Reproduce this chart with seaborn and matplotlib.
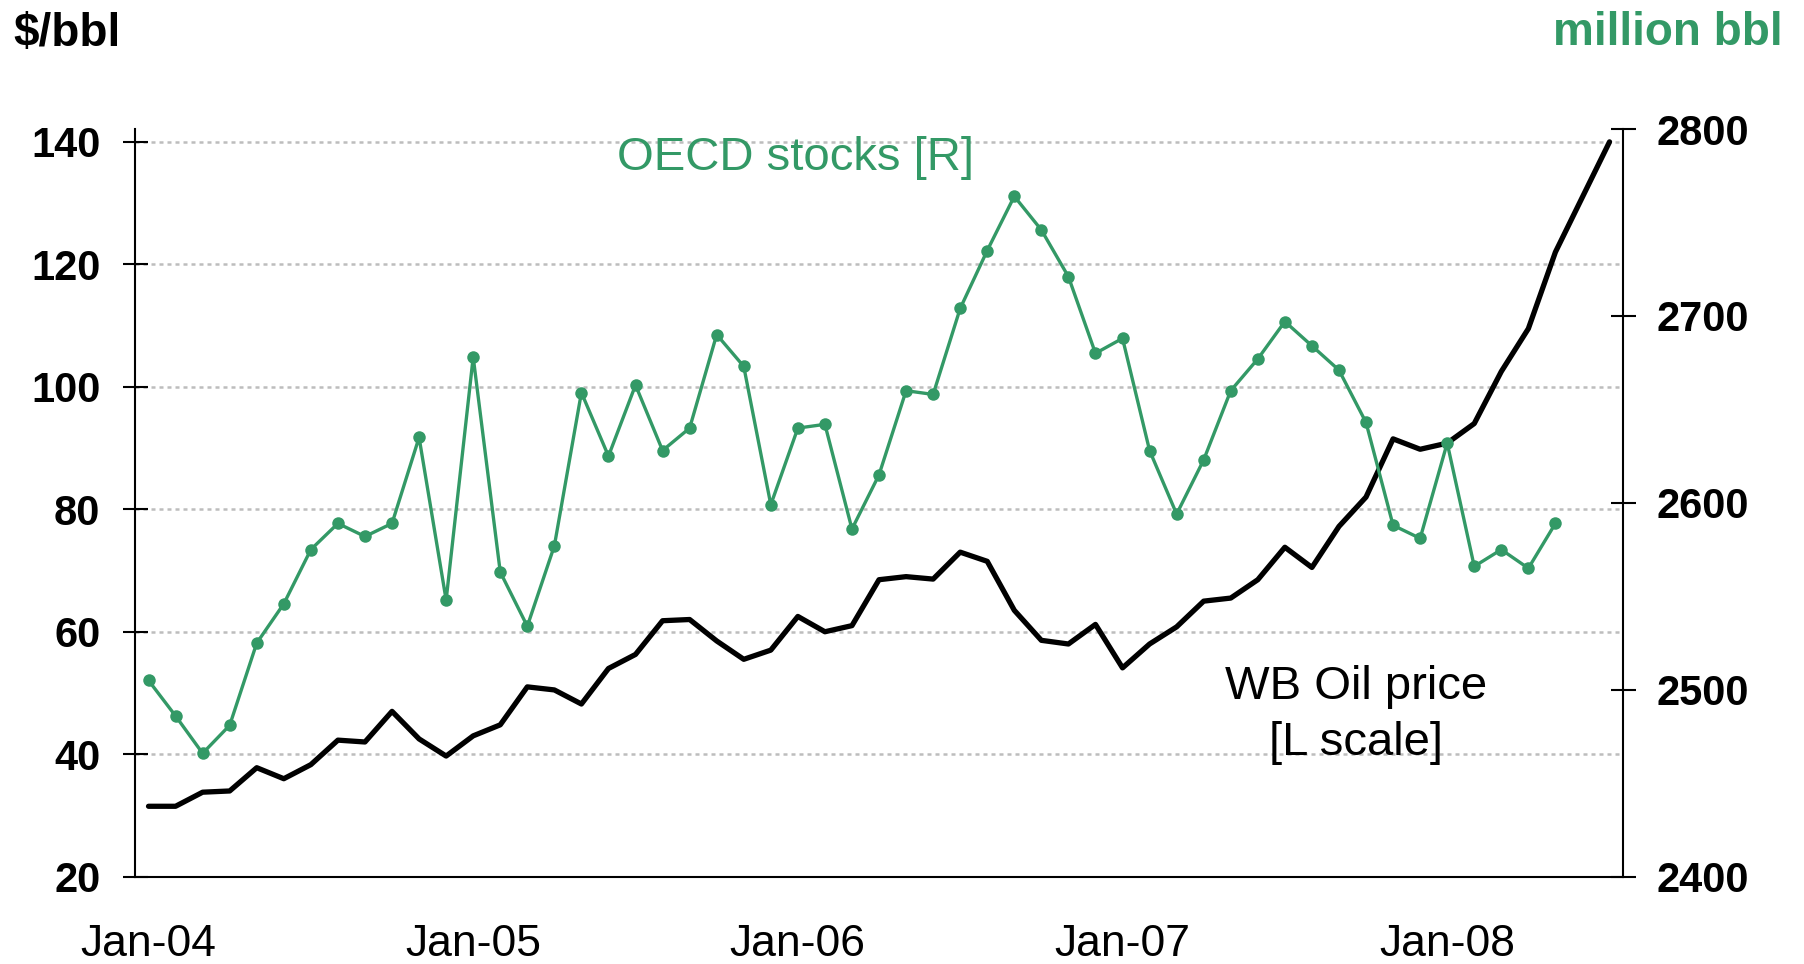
import numpy as np
import pandas as pd
import matplotlib
matplotlib.use('Agg')
import matplotlib.pyplot as plt
import seaborn as sns

# monthly series, Jan-04 onwards
month_labels = ['Jan-04', 'Jan-05', 'Jan-06', 'Jan-07', 'Jan-08']
label_months = [0, 12, 24, 36, 48]

# WB oil price, $/bbl (left scale), Jan-04 .. Jul-08
oil_price = [31.5, 31.5, 33.8, 34.0, 37.8, 36.0, 38.3, 42.3, 42.0, 47.0, 42.5, 39.7,
             43.0, 44.8, 51.0, 50.5, 48.2, 54.0, 56.3, 61.8, 62.0, 58.5, 55.5, 57.0,
             62.5, 60.0, 61.0, 68.5, 69.0, 68.6, 73.0, 71.5, 63.5, 58.6, 58.0, 61.2,
             54.1, 58.0, 60.8, 65.0, 65.5, 68.5, 73.8, 70.5, 77.2, 82.0, 91.5, 89.8,
             90.8, 94.0, 102.5, 109.5, 122.0, 131.0, 140.0]

# OECD commercial stocks, million bbl (right scale), Jan-04 .. May-08
oecd_stocks = [2505, 2486, 2466, 2481, 2525, 2546, 2575, 2589, 2582, 2589, 2635, 2548,
               2678, 2563, 2534, 2577, 2659, 2625, 2663, 2628, 2640, 2690, 2673, 2599,
               2640, 2642, 2586, 2615, 2660, 2658, 2704, 2735, 2764, 2746, 2721, 2680,
               2688, 2628, 2594, 2623, 2660, 2677, 2697, 2684, 2671, 2643, 2588, 2581,
               2632, 2566, 2575, 2565, 2589]

green = '#339966'

sns.set_style('white')
plt.rcParams['font.family'] = ['Liberation Sans', 'DejaVu Sans']
plt.rcParams['text.color'] = 'black'
plt.rcParams['xtick.color'] = 'black'
plt.rcParams['ytick.color'] = 'black'
plt.rcParams['xtick.labelcolor'] = 'black'
plt.rcParams['ytick.labelcolor'] = 'black'
plt.rcParams['lines.solid_joinstyle'] = 'round'
plt.rcParams['lines.solid_capstyle'] = 'round'

price_df = pd.DataFrame({'month': np.arange(len(oil_price)) + 0.5, 'price': oil_price})
stock_df = pd.DataFrame({'month': np.arange(len(oecd_stocks)) + 0.5, 'stocks': oecd_stocks})

fig = plt.figure(figsize=(18.04, 9.64), dpi=100)
ax = fig.add_axes([0.07483, 0.09056, 0.82487, 0.77562])
ax2 = ax.twinx()

sns.lineplot(data=price_df, x='month', y='price', ax=ax, color='black', linewidth=3.8)
sns.lineplot(data=stock_df, x='month', y='stocks', ax=ax2, color=green, linewidth=2.4,
             marker='o', markersize=9, markeredgewidth=0)

ax.set_xlim(0, 55)
ax.set_ylim(20, 142.1)
ax2.set_ylim(2400, 2800)

ax.set_yticks([20, 40, 60, 80, 100, 120, 140])
ax2.set_yticks([2400, 2500, 2600, 2700, 2800])
ax.set_xticks(np.arange(0, 55, 6))
ax.set_xticklabels([])
ax.set_xticks(np.array(label_months) + 0.5, minor=True)
ax.set_xticklabels(month_labels, minor=True)

ax.set_xlabel('')
ax.set_ylabel('')
ax2.set_ylabel('')

ax.yaxis.grid(True, color='#bdbdbd', linestyle=(0, (1.6, 1.6)), linewidth=1.8)
ax.xaxis.grid(False)
ax2.grid(False)
ax.set_axisbelow(True)

for a in (ax, ax2):
    for s in a.spines.values():
        s.set_color('black')
        s.set_linewidth(1.5)
    a.spines['top'].set_visible(False)
ax.spines['right'].set_visible(False)
ax2.spines['left'].set_visible(False)
ax2.spines['bottom'].set_visible(False)

ax.tick_params(axis='y', which='major', direction='inout', length=18, width=1.5,
               pad=16, labelsize=30, colors='black')
ax2.tick_params(axis='y', which='major', direction='inout', length=18, width=1.5,
                pad=15, labelsize=30, colors='black')
ax.tick_params(axis='x', which='major', direction='inout', length=18, width=1.5, colors='black')
ax.tick_params(axis='x', which='minor', length=0, pad=34, labelsize=32, colors='black')
for lab in ax.get_yticklabels() + ax2.get_yticklabels():
    lab.set_fontweight('bold')

fig.text(0.0072, 0.9523, '$/bbl', fontsize=33, fontweight='bold', color='black',
         ha='left', va='baseline')
fig.text(0.9884, 0.9533, 'million bbl', fontsize=33, fontweight='bold', color=green,
         ha='right', va='baseline')
fig.text(0.4412, 0.8237, 'OECD stocks [R]', fontsize=34, color=green, ha='center', va='baseline')
fig.text(0.7517, 0.2749, 'WB Oil price', fontsize=34, color='black', ha='center', va='baseline')
fig.text(0.7517, 0.2168, '[L scale]', fontsize=34, color='black', ha='center', va='baseline')

fig.savefig('out.png', dpi=100)
